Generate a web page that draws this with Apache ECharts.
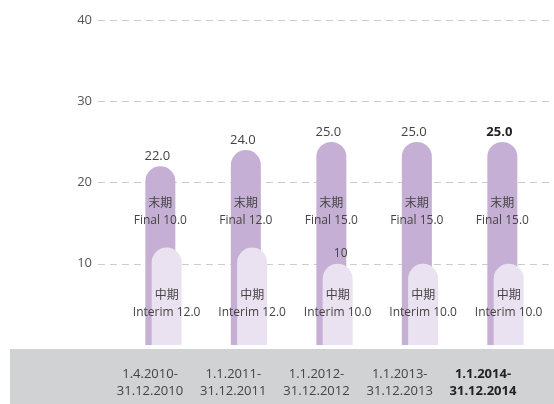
<!DOCTYPE html>
<html>
<head>
<meta charset="utf-8">
<script src="https://cdn.jsdelivr.net/npm/echarts@6/dist/echarts.min.js"></script>
<style>html,body{margin:0;padding:0;background:#fff}#c{width:554px;height:404px}</style>
</head>
<body>
<div id="c"></div>
<script>
var categories = ['1.4.2010-\n31.12.2010', '1.1.2011-\n31.12.2011', '1.1.2012-\n31.12.2012', '1.1.2013-\n31.12.2013', '1.1.2014-\n31.12.2014'];
var finalValues = [10.0, 12.0, 15.0, 15.0, 15.0];
var interimValues = [12.0, 12.0, 10.0, 10.0, 10.0];
var totalValues = [22.0, 24.0, 25.0, 25.0, 25.0];
var yTicks = [0, 10, 20, 30, 40];
var extraLabel = { index: 2, value: 10, text: '10' };

var FONT = "'Open Sans', 'Noto Sans CJK JP', sans-serif";
var TXT = '#444';
var lastIdx = categories.length - 1;

var chart = echarts.init(document.getElementById('c'), null, { renderer: 'canvas' });

var option = {
  animation: false,
  textStyle: { fontFamily: FONT },
  graphic: [{
    type: 'rect', left: 10, top: 349, z: -10,
    shape: { width: 544, height: 55 },
    style: { fill: '#d1d2d4' }
  }],
  grid: [
    { left: 98, right: 0, top: 20, bottom: 59 },
    { left: 120.75, right: 5.75, top: 20, bottom: 59 },
    { left: 108.4, right: 29.4, top: 300, bottom: 46 }
  ],
  xAxis: [
    { gridIndex: 0, type: 'value', show: false, min: 0, max: 1 },
    { gridIndex: 1, type: 'category', data: categories, show: false },
    {
      gridIndex: 2, type: 'category', data: categories,
      axisLine: { show: false }, axisTick: { show: false },
      axisLabel: {
        interval: 0, margin: 8, fontSize: 13, color: TXT, fontFamily: FONT, lineHeight: 17,
        formatter: function (v, i) {
          if (i === lastIdx) return v.split('\n').map(function (s) { return '{b|' + s + '}'; }).join('\n');
          return v;
        },
        rich: { b: { fontWeight: 'bold', fontSize: 13, color: '#222', fontFamily: FONT, lineHeight: 17 } }
      }
    }
  ],
  yAxis: [
    {
      gridIndex: 0, type: 'value', min: yTicks[0], max: yTicks[yTicks.length - 1], interval: 10,
      axisLine: { show: false }, axisTick: { show: false },
      axisLabel: {
        margin: 6, fontSize: 13, color: '#555', fontFamily: FONT,
        formatter: function (v) { return v === 0 ? '' : String(v); }
      },
      splitLine: { show: true, showMinLine: false, lineStyle: { color: '#cbcbcb', width: 1, type: [7, 5] } }
    },
    { gridIndex: 1, type: 'value', min: yTicks[0], max: yTicks[yTicks.length - 1], show: false, splitLine: { show: false } },
    { gridIndex: 2, type: 'value', show: false, splitLine: { show: false } }
  ],
  series: [
    {
      name: 'total', type: 'bar', xAxisIndex: 1, yAxisIndex: 1,
      barWidth: 30, barGap: '-79%',
      data: totalValues.map(function (v, i) {
        return {
          value: v,
          label: {
            formatter: '末期\nFinal ' + finalValues[i].toFixed(1)
          }
        };
      }),
      itemStyle: { color: '#c6afd4', borderRadius: [15, 15, 0, 0] },
      label: {
        show: true, position: 'insideBottom', distance: 116,
        fontSize: 12, lineHeight: 17, color: TXT, fontFamily: FONT
      },
      markPoint: {
        symbol: 'circle', symbolSize: 0,
        itemStyle: { color: 'rgba(0,0,0,0)' },
        data: totalValues.map(function (v, i) {
          return {
            coord: [categories[i], v], value: v,
            label: {
              show: true, position: 'top', distance: 3, offset: [-3, 0],
              formatter: v.toFixed(1), fontSize: 13, fontFamily: FONT,
              color: i === lastIdx ? '#222' : TXT,
              fontWeight: i === lastIdx ? 'bold' : 'normal'
            }
          };
        })
      },
      z: 2
    },
    {
      name: 'interim', type: 'bar', xAxisIndex: 1, yAxisIndex: 1,
      barWidth: 30,
      data: interimValues.map(function (v, i) {
        return {
          value: v,
          label: { formatter: '中期\nInterim ' + v.toFixed(1) }
        };
      }),
      itemStyle: { color: '#ebe2f1', borderRadius: [15, 15, 0, 0] },
      label: {
        show: true, position: 'insideBottom', distance: 24,
        fontSize: 12, lineHeight: 17, color: TXT, fontFamily: FONT
      },
      markPoint: {
        symbol: 'circle', symbolSize: 0,
        itemStyle: { color: 'rgba(0,0,0,0)' },
        data: [{
          coord: [categories[extraLabel.index], extraLabel.value],
          label: {
            show: true, position: 'top', distance: 4, offset: [3, 0],
            formatter: extraLabel.text, fontSize: 12, color: TXT, fontFamily: FONT
          }
        }]
      },
      z: 3
    }
  ]
};
chart.setOption(option);
</script>
</body>
</html>
